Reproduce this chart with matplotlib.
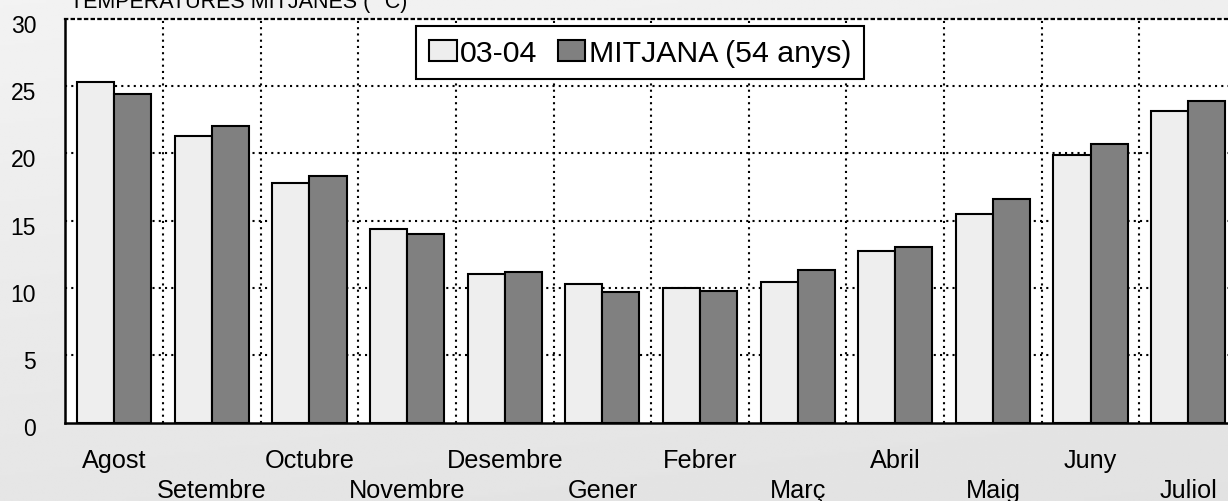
import matplotlib
import numpy as np

matplotlib.use("Agg")
import matplotlib.pyplot as plt
from matplotlib.patches import Patch
from matplotlib.transforms import ScaledTranslation

MONTHS = [
    "Agost", "Setembre", "Octubre", "Novembre", "Desembre", "Gener",
    "Febrer", "Març", "Abril", "Maig", "Juny", "Juliol",
]
TEMP_0304 = [25.3, 21.3, 17.8, 14.4, 11.0, 10.3, 10.0, 10.4, 12.7, 15.5, 19.9, 23.1]
TEMP_MITJANA = [24.4, 22.0, 18.3, 14.0, 11.2, 9.7, 9.8, 11.3, 13.0, 16.6, 20.7, 23.9]
SERIES_LABELS = ["03-04", "MITJANA (54 anys)"]
Y_TICKS = [0, 5, 10, 15, 20, 25, 30]
TITLE = "TEMPERATURES MITJANES ( °C)"

LIGHT = "#eeeeee"
DARK = "#808080"
DOTS = (0, (1, 2))

plt.rcParams["font.family"] = ["Liberation Sans", "DejaVu Sans"]

W, H, DPI = 1228, 502, 100


def px(x, y, w, h):
    # pixel box (top-left origin) -> figure fraction rect
    return [x / W, 1 - (y + h) / H, w / W, h / H]


def draw_background(fig):
    bg = fig.add_axes([0, 0, 1, 1], zorder=-10)
    yy, xx = np.mgrid[0:1:200j, 0:1:200j]
    shade = 0.95 - 0.05 * yy - 0.015 * xx
    bg.imshow(shade, cmap="gray", vmin=0, vmax=1, aspect="auto", extent=[0, 1, 0, 1])
    bg.set_axis_off()


def main() -> None:
    fig = plt.figure(figsize=(W / DPI, H / DPI), dpi=DPI)
    draw_background(fig)

    left, right, top, bottom = 65.4, 1237.0, 19.5, 423.5
    ax = fig.add_axes(px(left, top, right - left, bottom - top))
    ax.set_facecolor("white")

    x = np.arange(len(MONTHS))
    width = 0.38
    ax.bar(x - width / 2, TEMP_0304, width, color=LIGHT, edgecolor="black",
           linewidth=1.5, zorder=3, label=SERIES_LABELS[0])
    ax.bar(x + width / 2, TEMP_MITJANA, width, color=DARK, edgecolor="black",
           linewidth=1.5, zorder=3, label=SERIES_LABELS[1])

    ax.set_xlim(-0.5, len(MONTHS) - 0.5)
    ax.set_ylim(0, 30)

    # dotted grid between categories and at each 5 degrees
    for xv in x[:-1] + 0.5:
        ax.axvline(xv, color="black", linewidth=1.5, linestyle=DOTS, zorder=1)
    for yv in Y_TICKS[1:-1]:
        ax.axhline(yv, color="black", linewidth=1.5, linestyle=DOTS, zorder=1)

    ax.spines["right"].set_visible(False)
    ax.spines["top"].set_linestyle(DOTS)
    ax.spines["top"].set_linewidth(1.6)
    for side in ("left", "bottom"):
        ax.spines[side].set_linewidth(1.8)
        ax.spines[side].set_zorder(4)

    ax.set_yticks(Y_TICKS)
    ax.set_yticklabels([str(v) for v in Y_TICKS], fontsize=16.5)
    ax.tick_params(axis="y", length=0, pad=21)
    shift = ScaledTranslation(0, -4 / DPI, fig.dpi_scale_trans)
    for label in ax.get_yticklabels():
        label.set_transform(label.get_transform() + shift)

    ax.set_xticks(x)
    ax.set_xticklabels(MONTHS, fontsize=18.2)
    ax.tick_params(axis="x", length=0)
    for i, tick in enumerate(ax.xaxis.get_major_ticks()):
        tick.set_pad(18.5 if i % 2 == 0 else 40)

    handles = [
        Patch(facecolor=LIGHT, edgecolor="black", linewidth=1.5),
        Patch(facecolor=DARK, edgecolor="black", linewidth=1.5),
    ]
    legend = ax.legend(
        handles, SERIES_LABELS, loc="upper left",
        bbox_to_anchor=((416 - left) / (right - left), 1 - 7.5 / (bottom - top)),
        ncol=2, fontsize=21.8, frameon=True, fancybox=False, framealpha=1,
        edgecolor="black", handlelength=0.92, handleheight=0.69,
        handletextpad=0.12, columnspacing=0.66, borderpad=0.42,
        borderaxespad=0,
    )
    legend.get_frame().set_linewidth(1.5)
    legend.set_zorder(5)

    # title sits partly above the top edge, as in the source image
    fig.text(70 / W, 1 - 8 / H, TITLE, fontsize=15.5, ha="left", va="baseline")

    fig.savefig("out.png", dpi=DPI)
    plt.close(fig)


if __name__ == "__main__":
    main()
